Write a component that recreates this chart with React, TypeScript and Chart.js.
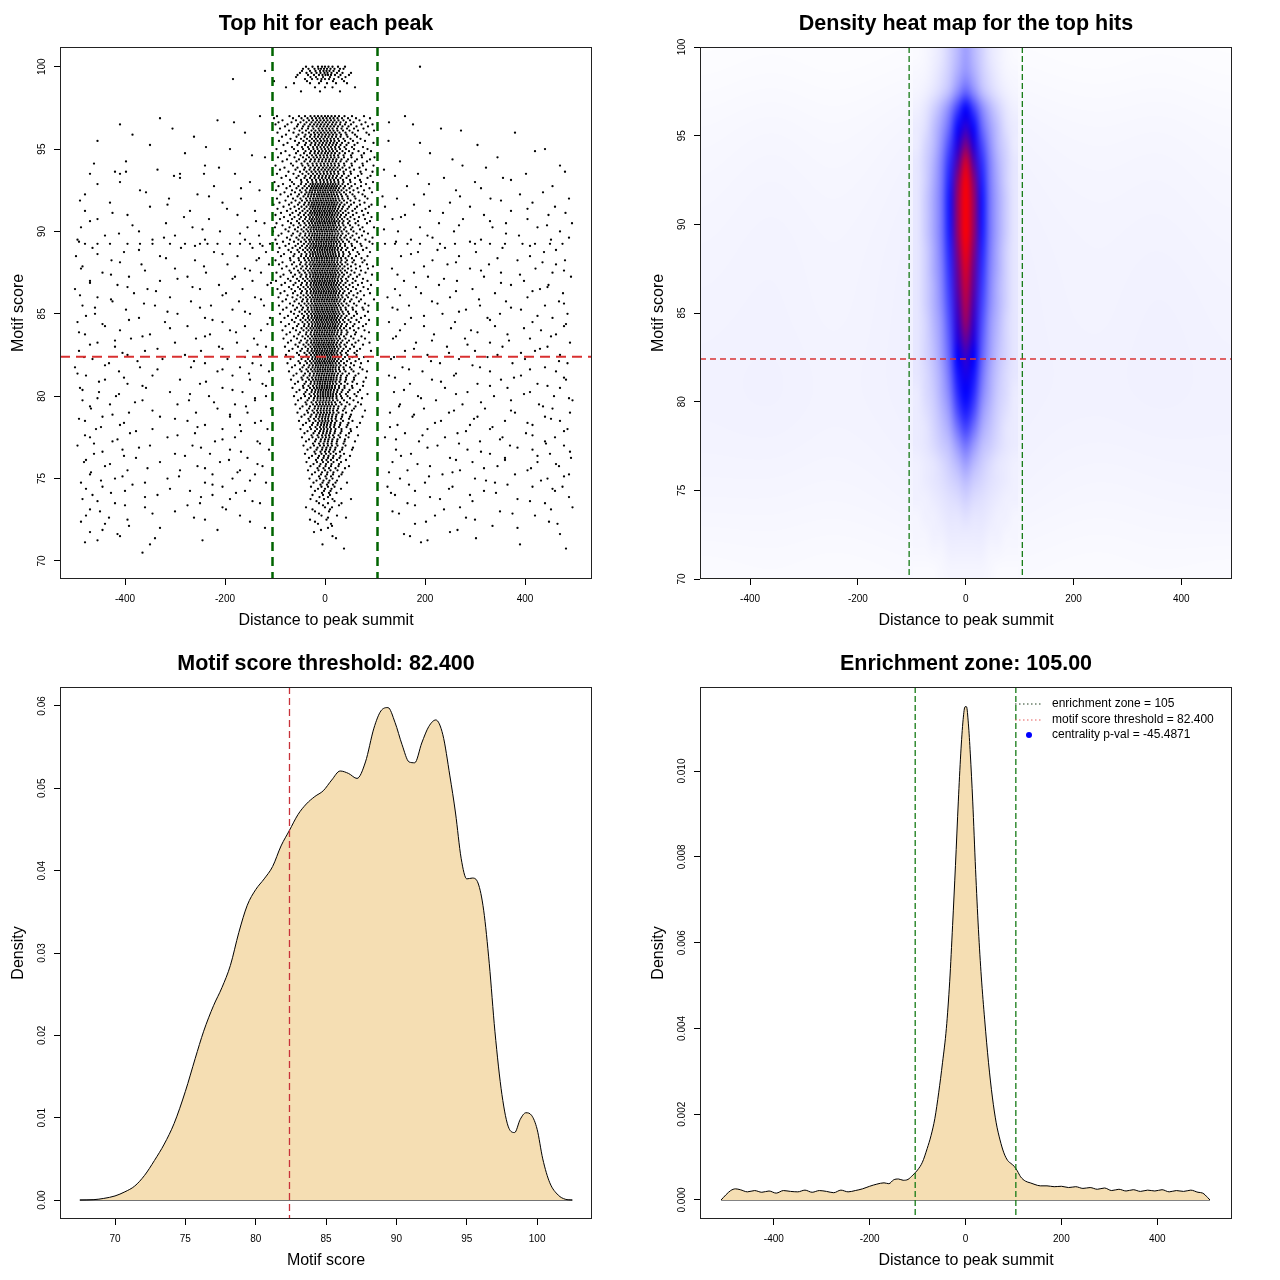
import React, { useEffect, useRef } from 'react';
import { Chart, registerables } from 'chart.js';
Chart.register(...registerables);

const FONT = '"Liberation Sans", Arial, Helvetica, sans-serif';

const ENRICHMENT_ZONE = 105;
const SCORE_THRESHOLD = 82.4;

// ---------- Panel 1: top hit per peak (score level -> distances to summit) ----------
const topHits: [number, number[]][] = [
  [100.0, [-38, -25, -14, -6, 0, 7, 15, 26, 40, 190]],
  [99.875, [-44, -33, -21, -13, -8, -2, 4, 11, 19, 30, 37]],
  [99.75, [-120, -46, -30, -19, -10, -3, 3, 9, 17, 28]],
  [99.625, [-50, -37, -27, -17, -9, -1, 5, 13, 24, 35, 52]],
  [99.5, [-55, -34, -22, -12, -5, 1, 6, 12, 20, 31, 48]],
  [99.375, [-58, -29, -18, -4, 10, 27, 41]],
  [99.25, [-184, -40, -26, -15, -7, 0, 8, 18, 34]],
  [99.125, [-102, -36, -8, 16, 38]],
  [99.0, [-62, -30, -12, 4, 22, 44]],
  [98.75, [-78, -20, 0, 15, 60]],
  [98.5, [-48, -10, 30]],
  [97.0, [-96, -71, -52, -40, -29, -21, -14, -7, 0, 6, 13, 20, 28, 39, 54, 78, -130, 160]],
  [96.875, [-102, -64, -47, -35, -26, -18, -11, -4, 3, 10, 17, 25, 34, 46, 62, 90, -330]],
  [96.75, [-85, -58, -43, -32, -24, -16, -9, -2, 5, 12, 19, 27, 37, 50, 69, -215]],
  [96.625, [-93, -67, -49, -37, -27, -19, -12, -5, 2, 9, 16, 23, 31, 42, 57, 81, -182, 128]],
  [96.5, [-99, -75, -54, -41, -30, -22, -15, -8, -1, 6, 14, 21, 30, 40, 52, 73, 95, -410, 176]],
  [96.375, [-80, -56, -44, -33, -25, -17, -10, -3, 4, 11, 18, 26, 35, 47, 63, 86]],
  [96.25, [-90, -61, -46, -34, -23, -13, -6, 1, 8, 15, 24, 33, 44, 58, 77, -305, 232]],
  [96.125, [-72, -51, -38, -27, -19, -11, -4, 3, 10, 17, 25, 36, 49, 66, 98, 272]],
  [96.0, [-95, -63, -45, -32, -22, -15, -8, -1, 6, 13, 20, 29, 41, 55, 83, -160, 380]],
  [95.875, [-78, -53, -39, -28, -20, -12, -5, 2, 9, 16, 23, 32, 43, 60, 88, -385]],
  [95.75, [-86, -57, -41, -30, -21, -14, -7, 0, 7, 14, 22, 31, 45, 64, -262]],
  [95.625, [-69, -48, -36, -26, -18, -10, -3, 4, 11, 18, 26, 37, 51, 71]],
  [95.5, [-92, -60, -43, -31, -22, -15, -8, -1, 5, 12, 19, 28, 40, 56, 80, -455, 127]],
  [95.375, [-75, -52, -38, -27, -19, -11, -4, 3, 10, 17, 24, 34, 47, 65, 97, 190]],
  [95.25, [-83, -55, -40, -29, -20, -13, -6, 1, 8, 15, 22, 31, 43, 59, -350, 305]],
  [95.125, [-66, -46, -34, -24, -16, -9, -2, 5, 12, 20, 28, 39, 54, 76, -238]],
  [95.0, [-97, -62, -44, -32, -23, -15, -7, 0, 7, 14, 21, 30, 42, 58, 85, -190, 440]],
  [94.875, [-79, -54, -39, -28, -20, -12, -5, 2, 9, 16, 24, 35, 48, 67, 92, 420]],
  [94.75, [-88, -58, -42, -30, -21, -14, -7, 0, 6, 13, 20, 29, 40, 55, 78, -280, 210]],
  [94.625, [-71, -49, -36, -26, -18, -10, -3, 4, 11, 18, 26, 37, 52, 73, -146]],
  [94.5, [-94, -61, -44, -32, -23, -16, -9, -2, 5, 12, 19, 27, 38, 53, 74, 99, -120, 345]],
  [94.375, [-76, -52, -38, -28, -20, -12, -5, 2, 9, 16, 23, 33, 46, 64, 90, 255]],
  [94.25, [-85, -57, -41, -30, -21, -13, -6, 1, 8, 15, 22, 31, 43, 60, 84, -398, 150]],
  [94.125, [-68, -47, -35, -25, -17, -9, -2, 5, 12, 19, 27, 38, 53, 75, -462]],
  [94.0, [-99, -64, -45, -33, -24, -16, -8, -1, 6, 13, 20, 28, 39, 54, 76, 97, -240, 275, 470]],
  [93.875, [-81, -55, -40, -29, -20, -12, -4, 3, 10, 17, 25, 35, 49, 69, -212, 322]],
  [93.75, [-90, -59, -42, -31, -22, -14, -7, 0, 7, 14, 21, 30, 42, 58, 82, -335, 118]],
  [93.625, [-73, -50, -37, -27, -19, -11, -3, 4, 11, 18, 26, 37, 51, 71, 95, -420, -398, 480]],
  [93.5, [-96, -63, -45, -33, -24, -16, -9, -2, 5, 12, 19, 27, 38, 52, 73, -470, -410, -290, -242, -180, 186, 402]],
  [93.375, [-78, -53, -39, -28, -20, -12, -5, 2, 9, 16, 24, 34, 47, 66, 91, -302, 140]],
  [93.25, [-87, -57, -41, -30, -21, -13, -6, 1, 8, 15, 22, 31, 43, 60, 85, -290, 238, 356]],
  [93.125, [-70, -48, -36, -26, -18, -10, -3, 4, 11, 18, 26, 36, 50, 70, 372]],
  [93.0, [-101, -66, -47, -34, -25, -17, -9, -2, 5, 12, 19, 27, 37, 51, 72, 96, -410, -150, 300]],
  [92.875, [-84, -62, -48, -38, -29, -24, -19, -14, -9, -4, 1, 6, 11, 16, 21, 27, 35, 46, 60, 82, -455, 208]],
  [92.75, [-93, -70, -53, -41, -32, -26, -21, -16, -11, -6, -1, 4, 9, 14, 19, 24, 31, 40, 53, 72, -222, 164, 455]],
  [92.625, [-77, -57, -45, -36, -28, -23, -18, -13, -8, -3, 2, 7, 12, 17, 22, 28, 37, 49, 65, 89, -168, 312]],
  [92.5, [-98, -66, -50, -39, -30, -25, -20, -15, -10, -5, 0, 5, 10, 15, 20, 26, 33, 43, 57, 78, -370, -131, 262]],
  [92.375, [-81, -60, -47, -37, -31, -26, -20, -14, -9, -4, 1, 6, 12, 17, 23, 29, 38, 50, 67, 94, -358, 436]],
  [92.25, [-89, -68, -52, -40, -33, -27, -22, -17, -12, -7, -2, 3, 8, 13, 18, 24, 32, 42, 55, 75, -480, -255, 198, 390]],
  [92.125, [-74, -55, -43, -34, -28, -22, -16, -11, -6, -1, 4, 9, 14, 20, 26, 34, 45, 59, 80, -232, 115, 270]],
  [92.0, [-96, -64, -49, -38, -30, -24, -19, -14, -9, -4, 1, 6, 11, 16, 21, 27, 35, 46, 61, 85, -312, -168, 144, 331, 488]],
  [91.875, [-79, -59, -46, -36, -29, -23, -18, -13, -8, -3, 2, 7, 12, 17, 22, 29, 38, 51, 69, -490, 352]],
  [91.75, [-91, -67, -51, -40, -32, -26, -21, -16, -11, -6, -1, 4, 9, 14, 19, 25, 33, 44, 58, 79, -430, -205, 250, 415]],
  [91.625, [-103, -72, -54, -42, -33, -27, -22, -17, -12, -7, -2, 3, 8, 13, 18, 23, 30, 39, 52, 70, 93, -315, 178]],
  [91.5, [-83, -61, -47, -37, -29, -24, -19, -14, -9, -4, 1, 6, 11, 16, 21, 28, 36, 48, 64, 88, -350, 120, 290, 460]],
  [91.375, [-95, -69, -52, -41, -31, -25, -20, -15, -10, -5, 0, 5, 10, 15, 20, 26, 34, 45, 60, 81, -196, 405]],
  [91.25, [-76, -58, -45, -35, -28, -22, -17, -12, -7, -2, 3, 8, 13, 18, 24, 31, 41, 55, 74, -480, -270, -140, 210, 372]],
  [91.125, [-88, -65, -50, -39, -30, -25, -20, -15, -10, -5, 0, 5, 10, 15, 21, 27, 36, 47, 63, 86, -425, 236, 481]],
  [91.0, [-99, -70, -53, -42, -33, -27, -21, -16, -11, -6, -1, 4, 9, 14, 19, 25, 32, 42, 56, 77, -395, -175, 160, 318, 447]],
  [90.875, [-82, -61, -48, -38, -30, -24, -18, -13, -8, -3, 2, 7, 12, 17, 23, 30, 39, 51, 68, 93, -282, 152]],
  [90.75, [-90, -66, -51, -40, -31, -26, -21, -16, -11, -6, -1, 4, 9, 14, 19, 26, 34, 45, 59, 80, -455, -232, 135, 276, 405]],
  [90.625, [-74, -56, -44, -35, -28, -23, -17, -12, -7, -2, 3, 8, 13, 18, 23, 29, 37, 49, 66, 90, -470, -138, 330]],
  [90.5, [-97, -68, -52, -41, -32, -26, -20, -15, -10, -5, 0, 5, 10, 15, 20, 27, 35, 46, 61, 84, -318, -121, 228, 362, 494]],
  [90.375, [-85, -63, -49, -38, -30, -24, -19, -14, -9, -4, 1, 6, 11, 16, 21, 28, 37, 50, 67, -385, 268, 444]],
  [90.25, [-100, -71, -54, -42, -33, -27, -22, -17, -12, -7, -2, 3, 8, 13, 18, 24, 31, 41, 55, 75, 98, -488, -265, -155, 190, 335, 425]],
  [90.125, [-79, -60, -47, -37, -29, -23, -18, -13, -8, -3, 2, 7, 12, 17, 22, 29, 38, 52, 70, -245, 118]],
  [90.0, [-104, -73, -55, -43, -34, -28, -22, -16, -11, -6, -1, 4, 9, 14, 19, 25, 33, 43, 57, 78, -372, -210, 146, 258, 470]],
  [89.875, [-87, -64, -49, -39, -31, -25, -20, -15, -10, -5, 0, 5, 10, 15, 21, 27, 35, 47, 63, 86, -412, -170, 362]],
  [89.75, [-93, -67, -51, -40, -32, -26, -21, -16, -11, -6, -1, 4, 9, 14, 19, 25, 32, 42, 55, 74, -440, -300, -132, 205, 388]],
  [89.625, [-76, -57, -45, -36, -28, -22, -17, -12, -7, -2, 3, 8, 13, 18, 23, 30, 39, 51, 68, 95, -322, 215, 488]],
  [89.5, [-99, -70, -53, -41, -32, -27, -21, -16, -11, -6, -1, 4, 9, 14, 19, 25, 33, 44, 59, 81, -495, -345, -240, -160, 172, 312, 452]],
  [89.375, [-84, -62, -48, -38, -30, -24, -18, -13, -8, -3, 2, 7, 12, 17, 22, 28, 36, 48, 64, 89, -492, 142, 290]],
  [89.25, [-96, -72, -54, -42, -33, -27, -22, -17, -12, -7, -2, 3, 8, 13, 18, 24, 31, 40, 53, 71, 95, -480, -455, -430, -395, -370, -345, -310, -280, -250, -235, -215, -190, -170, -150, -130, -110, 120, 140, 165, 190, 230, 260, 300, 330, 360, 395, 420, 450, 475]],
  [89.125, [-79, -59, -46, -36, -29, -23, -18, -13, -8, -3, 2, 7, 12, 17, 23, 30, 40, 54, 73, -260, -125, 410]],
  [89.0, [-91, -65, -50, -39, -31, -25, -20, -15, -10, -5, 0, 5, 10, 15, 20, 26, 34, 45, 60, 83, -465, -288, -145, 240, 355]],
  [88.875, [-73, -55, -44, -35, -28, -22, -16, -11, -6, -1, 4, 9, 14, 19, 25, 32, 42, 56, 76, -372, 225, 462]],
  [88.75, [-94, -68, -52, -40, -31, -25, -20, -15, -10, -5, 0, 5, 10, 15, 20, 27, 36, 48, 65, 90, -402, -222, -118, 186, 302, 438]],
  [88.625, [-82, -61, -47, -37, -29, -24, -19, -14, -9, -4, 1, 6, 11, 16, 21, 28, 37, 50, 68, -455, -205, 172]],
  [88.5, [-88, -63, -48, -38, -30, -24, -18, -13, -8, -3, 2, 7, 12, 17, 22, 28, 36, 47, 62, 85, -498, -330, -175, 152, 268, 410]],
  [88.375, [-70, -53, -42, -34, -27, -21, -16, -11, -6, -1, 4, 9, 14, 19, 25, 32, 41, 54, 73, -318, -132, 345]],
  [88.25, [-99, -69, -52, -40, -32, -26, -21, -16, -11, -6, -1, 4, 9, 14, 19, 25, 33, 44, 58, 79, -427, -260, -137, 215, 385, 480]],
  [88.125, [-85, -62, -48, -37, -29, -23, -17, -12, -7, -2, 3, 8, 13, 18, 24, 31, 41, 55, 75, -410, 262, 435]],
  [88.0, [-92, -66, -50, -39, -31, -25, -20, -15, -10, -5, 0, 5, 10, 15, 20, 26, 34, 45, 61, 84, -367, -195, -112, 245, 328, 462]],
  [87.875, [-77, -57, -45, -36, -28, -22, -17, -12, -7, -2, 3, 8, 13, 18, 23, 30, 39, 52, 70, 96, -485, -242, 198]],
  [87.75, [-86, -62, -48, -38, -30, -24, -19, -14, -9, -4, 1, 6, 11, 16, 21, 27, 35, 46, 62, 86, -488, -300, -160, 134, 290, 421]],
  [87.625, [-71, -54, -43, -34, -27, -21, -16, -11, -6, -1, 4, 9, 14, 19, 24, 31, 40, 53, 72, -360, -150, 312, 478]],
  [87.5, [-97, -68, -51, -40, -31, -25, -20, -15, -10, -5, 0, 5, 10, 15, 20, 26, 34, 44, 59, 81, -445, -238, -128, 178, 352, 455]],
  [87.375, [-83, -60, -47, -37, -29, -23, -18, -13, -8, -3, 2, 7, 12, 17, 22, 29, 38, 51, 69, 94, -428, 145, 390]],
  [87.25, [-89, -64, -49, -38, -30, -24, -19, -14, -9, -4, 1, 6, 11, 16, 21, 27, 35, 47, 64, -392, -275, -180, 206, 318, 492]],
  [87.125, [-74, -56, -44, -35, -27, -21, -16, -11, -6, -1, 4, 9, 14, 19, 25, 32, 42, 56, 76, -295, -185, 238]],
  [87.0, [-98, -69, -52, -40, -31, -25, -20, -15, -10, -5, 0, 5, 10, 15, 20, 26, 34, 45, 61, 85, -470, -330, -145, 158, 264, 398]],
  [86.875, [-80, -59, -46, -36, -28, -22, -17, -12, -7, -2, 3, 8, 13, 18, 24, 31, 41, 55, 74, -470, -108, 352]],
  [86.75, [-87, -63, -48, -37, -29, -23, -18, -13, -8, -3, 2, 7, 12, 17, 22, 28, 37, 49, 66, 92, -415, -212, -115, 228, 372, 447]],
  [86.625, [-72, -54, -43, -34, -27, -21, -16, -11, -6, -1, 4, 9, 14, 19, 25, 32, 42, 56, 77, -395, -265, 182, 445]],
  [86.5, [-95, -67, -50, -39, -30, -24, -19, -14, -9, -4, 1, 6, 11, 16, 21, 27, 35, 46, 62, 86, -500, -355, -250, -165, 140, 295, 430]],
  [86.375, [-81, -60, -46, -36, -28, -22, -17, -12, -7, -2, 3, 8, 13, 18, 23, 30, 39, 52, 71, -338, 262, 415]],
  [86.25, [-89, -64, -48, -37, -29, -23, -18, -13, -8, -3, 2, 7, 12, 17, 22, 28, 36, 48, 65, 90, -382, -198, 192, 340, 476]],
  [86.125, [-75, -55, -43, -34, -26, -20, -15, -10, -5, 0, 5, 10, 15, 20, 26, 33, 43, 57, 78, -490, -205, 150]],
  [86.0, [-93, -65, -49, -38, -30, -24, -19, -14, -9, -4, 1, 6, 11, 16, 21, 27, 35, 46, 63, -455, -310, -140, 125, 250, 405]],
  [85.875, [-78, -57, -44, -35, -27, -21, -16, -11, -6, -1, 4, 9, 14, 19, 24, 31, 40, 53, 72, 98, -428, -128, 308]],
  [85.75, [-85, -61, -46, -36, -28, -22, -17, -12, -7, -2, 3, 8, 13, 18, 23, 29, 38, 50, 68, -425, -268, -172, 214, 362, 468]],
  [85.625, [-70, -52, -41, -33, -26, -20, -15, -10, -5, 0, 5, 10, 15, 20, 26, 33, 43, 58, 80, -362, 225, 478]],
  [85.5, [-92, -64, -48, -37, -29, -23, -18, -13, -8, -3, 2, 7, 12, 17, 22, 28, 36, 47, 63, 87, -485, -340, -228, -122, 168, 310, 440]],
  [85.375, [-77, -56, -44, -34, -27, -21, -16, -11, -6, -1, 4, 9, 14, 19, 24, 31, 41, 55, 75, -460, -250, 135, 372]],
  [85.25, [-84, -60, -46, -35, -27, -21, -16, -11, -6, -1, 4, 9, 14, 19, 25, 32, 42, 56, 77, -398, -185, 145, 282, 392]],
  [85.125, [-68, -51, -40, -32, -25, -19, -14, -9, -4, 1, 6, 11, 16, 21, 27, 35, 46, 62, 86, -315, -160, 268]],
  [85.0, [-90, -62, -46, -36, -28, -22, -17, -12, -7, -2, 3, 8, 13, 18, 23, 29, 37, 48, 64, -460, -295, -150, 235, 350, 485]],
  [84.875, [-74, -54, -42, -33, -26, -20, -15, -10, -5, 0, 5, 10, 15, 20, 26, 33, 43, 58, 80, -478, 198, 425]],
  [84.75, [-81, -58, -44, -34, -27, -21, -16, -11, -6, -1, 4, 9, 14, 19, 24, 31, 40, 53, 72, -372, -240, -110, 172, 325, 455]],
  [84.625, [-66, -49, -39, -31, -24, -18, -13, -8, -3, 2, 7, 12, 17, 22, 28, 36, 47, 63, 88, -392, -225, 330]],
  [84.5, [-88, -61, -45, -35, -27, -21, -16, -11, -6, -1, 4, 9, 14, 19, 24, 30, 39, 51, 68, -495, -320, -205, 128, 260, 415]],
  [84.375, [-72, -53, -41, -32, -25, -19, -14, -9, -4, 1, 6, 11, 16, 21, 27, 34, 44, 59, 82, -445, -115, 160, 482]],
  [84.25, [-79, -56, -42, -33, -26, -20, -15, -10, -5, 0, 5, 10, 15, 20, 25, 32, 42, 56, 76, -440, -275, -160, 198, 340, 478]],
  [84.125, [-64, -47, -37, -29, -23, -17, -12, -7, -2, 3, 8, 13, 18, 23, 30, 38, 50, 67, -310, 252, 398]],
  [84.0, [-85, -58, -43, -33, -26, -20, -15, -10, -5, 0, 5, 10, 15, 20, 26, 33, 43, 58, 79, -410, -190, -128, 150, 292, 432]],
  [83.875, [-70, -50, -37, -28, -21, -16, -11, -6, -1, 4, 9, 14, 19, 25, 33, 45, 62, 88, -492, -178, 305]],
  [83.75, [-77, -53, -38, -29, -22, -17, -12, -7, -2, 3, 8, 13, 18, 24, 32, 43, 60, -480, -350, -230, 218, 365, 462]],
  [83.625, [-62, -45, -34, -26, -20, -15, -10, -5, 0, 5, 10, 15, 21, 28, 38, 52, 73, -365, -240, 142, 452]],
  [83.5, [-83, -56, -40, -30, -23, -18, -13, -8, -3, 2, 7, 12, 17, 23, 30, 41, 57, 80, -388, -258, -142, 136, 280, 410]],
  [83.375, [-68, -48, -35, -27, -21, -16, -11, -6, -1, 4, 9, 14, 19, 26, 35, 48, 67, -420, 214, 368]],
  [83.25, [-74, -51, -37, -28, -22, -17, -12, -7, -2, 3, 8, 13, 18, 24, 32, 44, 61, 89, -455, -300, -176, 182, 330, 490]],
  [83.125, [-59, -43, -33, -25, -19, -14, -9, -4, 1, 6, 11, 16, 22, 29, 39, 54, 76, -470, -135, 285]],
  [83.0, [-80, -54, -39, -29, -22, -17, -12, -7, -2, 3, 8, 13, 18, 24, 31, 42, 58, -420, -212, -118, 244, 355, 445]],
  [82.875, [-65, -46, -34, -26, -20, -15, -10, -5, 0, 5, 10, 15, 20, 27, 37, 50, 70, -335, -205, 178, 430]],
  [82.75, [-72, -49, -35, -27, -21, -16, -11, -6, -1, 4, 9, 14, 19, 25, 34, 46, 64, 92, -492, -360, -248, -155, 160, 300, 420]],
  [82.625, [-56, -41, -31, -24, -18, -13, -8, -3, 2, 7, 12, 17, 23, 31, 42, 59, -405, 248, 392]],
  [82.5, [-78, -52, -37, -28, -21, -16, -11, -6, -1, 4, 9, 14, 19, 25, 33, 45, 63, -395, -280, -130, 205, 345, 470]],
  [82.375, [-63, -44, -33, -25, -19, -14, -9, -4, 1, 6, 11, 16, 22, 29, 40, 55, 78, -482, -160, 138, 325]],
  [82.25, [-69, -47, -34, -26, -20, -15, -10, -5, 0, 5, 10, 15, 20, 27, 36, 49, 68, -465, -325, -195, 132, 268, 400]],
  [82.125, [-53, -39, -30, -23, -17, -12, -7, -2, 3, 8, 13, 18, 24, 32, 44, 61, 86, -375, -262, 212, 468]],
  [82.0, [-75, -50, -36, -27, -20, -15, -10, -5, 0, 5, 10, 15, 21, 28, 38, 52, 72, -432, -240, -145, 230, 375, 485]],
  [81.875, [-60, -42, -31, -24, -18, -13, -8, -3, 2, 7, 12, 17, 23, 31, 42, 58, -440, -128, 295]],
  [81.75, [-66, -45, -33, -25, -19, -14, -9, -4, 1, 6, 11, 16, 21, 28, 37, 50, 70, -500, -370, -268, -170, 155, 310, 440]],
  [81.625, [-50, -37, -28, -21, -15, -10, -5, 0, 5, 10, 15, 21, 28, 38, 53, 75, -335, -205, 168, 410]],
  [81.5, [-72, -47, -34, -25, -19, -14, -9, -4, 1, 6, 11, 16, 22, 30, 41, 57, 84, -412, -215, -112, 195, 330, 462]],
  [81.375, [-57, -40, -30, -22, -16, -11, -6, -1, 4, 9, 14, 19, 26, 35, 48, 67, -495, -152, 262]],
  [81.25, [-63, -43, -31, -23, -17, -12, -7, -2, 3, 8, 13, 18, 24, 32, 44, 61, -478, -345, -185, 128, 258, 392]],
  [81.125, [-47, -35, -26, -19, -13, -8, -3, 2, 7, 12, 17, 23, 31, 42, 58, 82, -402, 140, 378, 478]],
  [81.0, [-68, -45, -32, -24, -18, -13, -8, -3, 2, 7, 12, 17, 23, 31, 42, 58, -440, -290, -150, 214, 352, 482]],
  [80.875, [-54, -38, -28, -21, -15, -10, -5, 0, 5, 10, 15, 21, 29, 40, 55, 77, -452, -238, 232]],
  [80.75, [-60, -41, -29, -21, -15, -10, -5, 0, 5, 10, 16, 23, 32, 45, 64, -395, -250, -125, 170, 305, 425]],
  [80.625, [-44, -33, -24, -17, -11, -6, -1, 4, 9, 14, 20, 28, 39, 54, 76, -365, -118, 330, 445]],
  [80.5, [-65, -43, -30, -22, -16, -11, -6, -1, 4, 9, 14, 20, 28, 39, 55, -490, -358, -205, 240, 365, 470]],
  [80.375, [-51, -36, -26, -19, -13, -8, -3, 2, 7, 12, 18, 25, 35, 49, 70, -485, -185, 158]],
  [80.25, [-57, -39, -27, -20, -14, -9, -4, 1, 6, 11, 17, 24, 33, 46, 66, -452, -310, -165, 138, 285, 410]],
  [80.125, [-42, -31, -22, -15, -9, -4, 1, 6, 11, 16, 22, 30, 42, 59, 85, -412, -270, 262, 398]],
  [80.0, [-62, -40, -28, -20, -14, -9, -4, 1, 6, 11, 16, 23, 32, 45, 63, -418, -232, -118, 186, 338, 458]],
  [79.875, [-48, -32, -22, -15, -9, -3, 3, 9, 15, 23, 34, 50, 74, -455, -140, 192, 488]],
  [79.75, [-54, -35, -23, -15, -9, -3, 3, 9, 16, 25, 38, 57, -485, -365, -272, -140, 222, 372, 495]],
  [79.625, [-39, -27, -18, -11, -5, 1, 7, 13, 20, 30, 44, 66, -380, -222, 312]],
  [79.5, [-59, -37, -24, -16, -10, -4, 2, 8, 14, 22, 33, 49, 72, -430, -295, -180, 150, 275, 428]],
  [79.375, [-45, -30, -20, -13, -7, -1, 5, 11, 18, 27, 41, 61, -470, -158, 148, 436]],
  [79.25, [-50, -32, -21, -14, -8, -2, 4, 10, 17, 26, 39, 58, -468, -215, -108, 198, 320, 455]],
  [79.125, [-36, -25, -16, -9, -3, 3, 9, 16, 24, 36, 54, 80, -345, 258, 372]],
  [79.0, [-55, -34, -22, -14, -8, -2, 4, 10, 17, 27, 42, -392, -258, -155, 130, 248, 380, 490]],
  [78.875, [-41, -27, -17, -10, -4, 2, 8, 15, 23, 35, 52, -425, -190, 178]],
  [78.75, [-47, -29, -18, -11, -5, 1, 7, 14, 22, 34, 50, 75, -445, -330, -190, 175, 305, 440]],
  [78.625, [-33, -22, -13, -6, 0, 6, 13, 21, 32, 48, -492, -300, 298, 452]],
  [78.5, [-52, -31, -19, -11, -5, 1, 7, 14, 23, 36, 55, -480, -275, -128, 232, 360, 470]],
  [78.375, [-38, -24, -14, -7, -1, 5, 12, 20, 31, 47, 70, -402, -140, 220, 405]],
  [78.25, [-44, -26, -15, -8, -2, 4, 11, 19, 30, 45, -410, -240, -170, 145, 290, 415]],
  [78.125, [-30, -19, -10, -3, 3, 10, 18, 28, 43, 64, -448, -255, 130, 335]],
  [78.0, [-49, -28, -16, -8, -2, 5, 12, 21, 33, 51, -458, -345, -205, -115, 205, 330, 485]],
  [77.875, [-35, -20, -10, -3, 4, 11, 20, 33, 52, -378, -168, 282, 478]],
  [77.75, [-41, -23, -12, -4, 3, 10, 19, 31, 48, -390, -260, 160, 265, 402]],
  [77.625, [-27, -15, -6, 1, 8, 16, 27, 42, 66, -480, -295, 195, 415]],
  [77.5, [-46, -25, -13, -5, 2, 9, 18, 30, 47, -470, -315, -180, 120, 240, 355, 460]],
  [77.375, [-32, -18, -8, 0, 7, 15, 25, 40, -415, -205, 142, 350]],
  [77.25, [-38, -20, -9, -1, 6, 14, 24, 39, 60, -425, -220, -135, 188, 310, 440]],
  [77.125, [-24, -12, -3, 5, 13, 23, 37, -462, -130, 268, 442]],
  [77.0, [-43, -22, -10, -2, 6, 14, 25, 41, -495, -350, -265, 225, 370, 478]],
  [76.875, [-29, -15, -5, 3, 11, 21, 35, 56, -372, -248, 205, 385]],
  [76.75, [-35, -17, -6, 2, 10, 20, 34, 54, -405, -190, -112, 142, 285, 415]],
  [76.625, [-21, -9, 0, 8, 17, 30, -445, -168, 312, 490]],
  [76.5, [-40, -19, -7, 2, 11, 22, 38, -462, -300, -230, 172, 330, 450]],
  [76.375, [-26, -12, -2, 7, 17, 31, 50, -402, -280, 152, 425]],
  [76.25, [-32, -14, -3, 6, 16, 29, -378, -155, 250, 360, 492]],
  [76.125, [-18, -6, 3, 12, 24, 42, -478, -192, 262, 360]],
  [76.0, [-37, -16, -4, 6, 17, 32, -482, -330, -210, 135, 295, 425]],
  [75.875, [-23, -9, 2, 13, 28, -430, -135, 185, 462]],
  [75.75, [-29, -11, 1, 12, 27, 48, -440, -255, -125, 210, 345, 468]],
  [75.625, [-15, -3, 8, 21, 40, -355, -240, 318, 412]],
  [75.5, [-34, -13, 0, 11, 25, -395, -290, -170, 165, 270, 405]],
  [75.375, [-20, -6, 5, 17, 35, -468, -175, 128, 255]],
  [75.25, [-26, -8, 4, 16, 33, -470, -225, -140, 235, 380, 488]],
  [75.125, [-12, 1, 12, 28, -405, -292, 208, 478]],
  [75.0, [-31, -10, 3, 15, -420, -315, -185, 150, 300, 445]],
  [74.875, [-17, -3, 9, 24, -448, -150, 322, 432]],
  [74.75, [-23, -5, 7, 21, 44, -488, -360, -240, -118, 200, 340]],
  [74.625, [-9, 4, 16, -385, -225, 168, 365]],
  [74.5, [-28, -7, 6, 19, -445, -205, 125, 255, 415, 475]],
  [74.375, [-14, 0, 13, 32, -478, -310, 248, 455]],
  [74.25, [-20, -2, 11, -400, -270, -160, 180, 318, 460]],
  [74.125, [-6, 8, 23, -428, -178, 132, 342]],
  [74.0, [-25, -4, 10, -465, -335, -225, 140, 290]],
  [73.875, [-11, 6, -360, -248, 210, 488]],
  [73.75, [-29, -2, 15, 52, -485, -190, 230, 385]],
  [73.625, [-17, 19, -455, -145, 295, 410]],
  [73.5, [-12, 6, 33, -420, -250, -130, 165, 440]],
  [73.375, [-4, 28, -400, -275, 180]],
  [73.25, [-38, 0, 14, -360, -205, 270, 495]],
  [73.125, [-25, 10, -470, -198, 238, 452]],
  [73.0, [-20, 8, -450, -300, 135, 350]],
  [72.875, [-12, -345, 148, 375]],
  [72.75, [-7, 24, -478, -170, 220, 420]],
  [72.625, [6, 42, -432, -262, 282]],
  [72.5, [-30, 3, -395, -240, 300]],
  [72.375, [-20, -488, -150, 202, 448]],
  [72.25, [-14, 12, -440, 180, 465]],
  [72.125, [14, -392, 335]],
  [72.0, [6, -330, -120, 385]],
  [71.875, [-8, -445, -215, 265]],
  [71.75, [-22, -470, 250]],
  [71.625, [-415, 158, 470]],
  [71.5, [15, -410, 170]],
  [71.375, [22, -340, 302]],
  [71.25, [-455, -245, 205]],
  [71.125, [-480, 192]],
  [71.0, [-5, -350, 390]],
  [70.75, [38, 482]],
  [70.5, [-365]],
];

// ---------- Panel 2: density heat map ----------
const heatX = [-90, -75, -60, -45, -30, -15, 0, 15, 30, 45, 60, 75, 90];
const heatY = [99.5, 98.5, 97.5, 96.5, 95.5, 94.5, 93.5, 92.5, 91.5, 90.5, 89.5, 88.5, 87.5, 86.5, 85.5,
  84.5, 83.5, 82.5, 81.5, 80.5, 79.5, 78.5, 77.5, 76.5, 75.5, 74.5, 73.5, 72.5, 71.5, 70.5];
const heatZ = [
  [0.01, 0.015, 0.03, 0.05, 0.09, 0.14, 0.19, 0.14, 0.09, 0.05, 0.03, 0.015, 0.01],
  [0.015, 0.02, 0.035, 0.06, 0.1, 0.16, 0.21, 0.16, 0.1, 0.06, 0.035, 0.02, 0.015],
  [0.02, 0.03, 0.05, 0.08, 0.13, 0.22, 0.3, 0.22, 0.13, 0.08, 0.05, 0.03, 0.02],
  [0.03, 0.05, 0.09, 0.15, 0.24, 0.38, 0.5, 0.38, 0.24, 0.15, 0.09, 0.05, 0.03],
  [0.04, 0.06, 0.12, 0.19, 0.3, 0.48, 0.58, 0.48, 0.3, 0.19, 0.12, 0.06, 0.04],
  [0.04, 0.08, 0.13, 0.22, 0.36, 0.56, 0.74, 0.56, 0.36, 0.22, 0.13, 0.08, 0.04],
  [0.05, 0.09, 0.15, 0.25, 0.41, 0.66, 0.92, 0.66, 0.41, 0.25, 0.15, 0.09, 0.05],
  [0.05, 0.09, 0.16, 0.26, 0.44, 0.76, 0.99, 0.76, 0.44, 0.26, 0.16, 0.09, 0.05],
  [0.05, 0.1, 0.17, 0.27, 0.46, 0.8, 1.0, 0.8, 0.46, 0.27, 0.17, 0.1, 0.05],
  [0.05, 0.1, 0.17, 0.27, 0.46, 0.8, 1.0, 0.8, 0.46, 0.27, 0.17, 0.1, 0.05],
  [0.05, 0.1, 0.17, 0.27, 0.45, 0.79, 1.0, 0.79, 0.45, 0.27, 0.17, 0.1, 0.05],
  [0.05, 0.09, 0.16, 0.26, 0.43, 0.75, 0.97, 0.75, 0.43, 0.26, 0.16, 0.09, 0.05],
  [0.05, 0.09, 0.16, 0.25, 0.41, 0.71, 0.93, 0.71, 0.41, 0.25, 0.16, 0.09, 0.05],
  [0.05, 0.09, 0.15, 0.24, 0.39, 0.68, 0.89, 0.68, 0.39, 0.24, 0.15, 0.09, 0.05],
  [0.05, 0.09, 0.15, 0.23, 0.37, 0.64, 0.85, 0.64, 0.37, 0.23, 0.15, 0.09, 0.05],
  [0.05, 0.08, 0.14, 0.21, 0.35, 0.6, 0.8, 0.6, 0.35, 0.21, 0.14, 0.08, 0.05],
  [0.05, 0.08, 0.13, 0.2, 0.33, 0.56, 0.7, 0.56, 0.33, 0.2, 0.13, 0.08, 0.05],
  [0.05, 0.08, 0.12, 0.19, 0.31, 0.5, 0.6, 0.5, 0.31, 0.19, 0.12, 0.08, 0.05],
  [0.05, 0.07, 0.11, 0.17, 0.28, 0.46, 0.54, 0.46, 0.28, 0.17, 0.11, 0.07, 0.05],
  [0.04, 0.07, 0.1, 0.16, 0.25, 0.42, 0.5, 0.42, 0.25, 0.16, 0.1, 0.07, 0.04],
  [0.04, 0.06, 0.09, 0.14, 0.21, 0.36, 0.45, 0.36, 0.21, 0.14, 0.09, 0.06, 0.04],
  [0.04, 0.05, 0.08, 0.12, 0.17, 0.28, 0.37, 0.28, 0.17, 0.12, 0.08, 0.05, 0.04],
  [0.04, 0.05, 0.07, 0.1, 0.13, 0.2, 0.27, 0.2, 0.13, 0.1, 0.07, 0.05, 0.04],
  [0.03, 0.04, 0.05, 0.07, 0.1, 0.14, 0.19, 0.14, 0.1, 0.07, 0.05, 0.04, 0.03],
  [0.03, 0.04, 0.05, 0.06, 0.08, 0.1, 0.13, 0.1, 0.08, 0.06, 0.05, 0.04, 0.03],
  [0.03, 0.03, 0.04, 0.05, 0.06, 0.07, 0.09, 0.07, 0.06, 0.05, 0.04, 0.03, 0.03],
  [0.02, 0.03, 0.03, 0.04, 0.05, 0.05, 0.06, 0.05, 0.05, 0.04, 0.03, 0.03, 0.02],
  [0.02, 0.02, 0.03, 0.03, 0.04, 0.04, 0.04, 0.04, 0.04, 0.03, 0.03, 0.02, 0.02],
  [0.015, 0.015, 0.02, 0.02, 0.03, 0.03, 0.03, 0.03, 0.03, 0.02, 0.02, 0.015, 0.015],
  [0.01, 0.01, 0.01, 0.015, 0.02, 0.02, 0.02, 0.02, 0.02, 0.015, 0.01, 0.01, 0.01],
];
const bgX = [-480, -360, -240, -120, 0, 120, 240, 360, 480];
const bgY = [100, 95, 90, 85, 80, 75, 70];
const bgZ = [
  [0.004, 0.005, 0.004, 0.006, 0.008, 0.006, 0.004, 0.005, 0.004],
  [0.014, 0.018, 0.014, 0.02, 0.03, 0.02, 0.016, 0.018, 0.014],
  [0.02, 0.024, 0.02, 0.026, 0.035, 0.026, 0.022, 0.024, 0.02],
  [0.024, 0.026, 0.022, 0.028, 0.036, 0.028, 0.024, 0.027, 0.024],
  [0.026, 0.027, 0.024, 0.028, 0.036, 0.028, 0.025, 0.027, 0.026],
  [0.02, 0.02, 0.018, 0.022, 0.03, 0.022, 0.018, 0.02, 0.021],
  [0.008, 0.009, 0.008, 0.009, 0.012, 0.009, 0.008, 0.009, 0.008],
];

// ---------- Panel 3: motif score density ----------
const scoreX = [67.5, 68.5, 69.2, 70, 70.7, 71.4, 72.1, 72.8, 73.5, 74.2, 75, 75.7, 76.3, 77, 77.6, 78.2, 78.8,
  79.4, 80, 80.6, 81.2, 81.8, 82.4, 83, 83.6, 84.2, 84.8, 85.4, 86, 86.6, 87.2, 87.8, 88.4, 88.9, 89.4, 89.9,
  90.4, 90.9, 91.3, 91.8, 92.3, 92.8, 93.3, 93.8, 94.2, 94.6, 95, 95.4, 95.8, 96.2, 96.6, 97, 97.5, 98, 98.4,
  98.8, 99.2, 99.6, 100, 100.4, 100.9, 101.5, 102, 102.5];
const scoreDensity = [0, 0.00005, 0.0002, 0.0005, 0.001, 0.0017, 0.003, 0.0048, 0.0068, 0.0093, 0.0132, 0.0172,
  0.0205, 0.0236, 0.0258, 0.0285, 0.0325, 0.0358, 0.0377, 0.039, 0.0405, 0.043, 0.0449, 0.0468, 0.0481, 0.049,
  0.0497, 0.051, 0.0521, 0.0518, 0.0512, 0.0532, 0.0573, 0.0594, 0.0598, 0.058, 0.0553, 0.0532, 0.0531, 0.0555,
  0.0575, 0.0583, 0.0565, 0.0515, 0.047, 0.0415, 0.039, 0.0391, 0.0385, 0.0352, 0.0287, 0.0205, 0.0128, 0.0087,
  0.0082, 0.0098, 0.0106, 0.0103, 0.0086, 0.005, 0.0021, 0.0006, 0.0001, 0];

// ---------- Panel 4: distance density ----------
const distX = [-510, -500, -490, -480, -470, -455, -440, -425, -410, -395, -380, -365, -350, -335, -320, -305,
  -290, -275, -260, -245, -230, -215, -200, -185, -170, -160, -150, -140, -130, -120, -110, -100, -90, -80, -72,
  -64, -56, -48, -40, -33, -27, -21, -15, -10, -5, -1, 2, 6, 10, 15, 21, 27, 33, 40, 48, 56, 64, 72, 80, 88, 95,
  102, 108, 115, 125, 135, 145, 156, 170, 185, 200, 215, 230, 245, 260, 275, 290, 305, 320, 335, 350, 365, 380,
  395, 410, 425, 440, 455, 470, 485, 495, 505, 510];
const distDensity = [0, 0.00012, 0.00022, 0.00026, 0.00024, 0.00019, 0.00022, 0.00018, 0.00021, 0.00016, 0.00022,
  0.0002, 0.00019, 0.00023, 0.00018, 0.00022, 0.0002, 0.00017, 0.00023, 0.00019, 0.00022, 0.00026, 0.00032,
  0.00037, 0.0004, 0.00038, 0.00047, 0.00049, 0.00046, 0.00048, 0.00058, 0.0007, 0.00088, 0.0012, 0.0015, 0.0019,
  0.0025, 0.0032, 0.004, 0.0051, 0.0064, 0.0078, 0.0093, 0.0104, 0.0112, 0.0115, 0.0115, 0.0111, 0.0104, 0.0093,
  0.0077, 0.0063, 0.0052, 0.0042, 0.0032, 0.0024, 0.0018, 0.0014, 0.0011, 0.00092, 0.00085, 0.00078, 0.00068,
  0.00054, 0.00044, 0.0004, 0.00036, 0.00033, 0.00033, 0.00031, 0.00032, 0.00029, 0.00031, 0.00027, 0.00029,
  0.00025, 0.00028, 0.00022, 0.00025, 0.00021, 0.00024, 0.0002, 0.00023, 0.00021, 0.00024, 0.00019, 0.00022,
  0.0002, 0.00023, 0.00018, 0.00016, 0.00006, 0];

// ---------- Axis ticks ----------
const distTicks = [-400, -200, 0, 200, 400];
const scoreTicks = [70, 75, 80, 85, 90, 95, 100];
const scoreDensTicks = [0, 0.01, 0.02, 0.03, 0.04, 0.05, 0.06];
const distDensTicks = [0, 0.002, 0.004, 0.006, 0.008, 0.01];

// ---------- Legend (panel 4) ----------
const legendLabels = ['enrichment zone = 105', 'motif score threshold = 82.400', 'centrality p-val = -45.4871'];

type RefLine = { v: number; color: string; width: number; dash: number[] };
type Decor = {
  title: string;
  yTicks: number[];
  yFmt: (v: number) => string;
  vlines?: RefLine[];
  hlines?: RefLine[];
  heat?: boolean;
  legend?: boolean;
};

function ramp(v: number): [number, number, number] {
  const z = Math.max(0, Math.min(1, v));
  if (z <= 0.5) {
    const c = Math.round(255 * (1 - z / 0.5));
    return [c, c, 255];
  }
  const t = (z - 0.5) / 0.5;
  return [Math.round(255 * t), 0, Math.round(255 * (1 - t))];
}

function drawGrid(chart: any, xs: number[], ys: number[], zs: number[][]) {
  const { ctx, chartArea, scales } = chart;
  const nx = xs.length;
  const ny = ys.length;
  const off = document.createElement('canvas');
  off.width = nx;
  off.height = ny;
  const octx = off.getContext('2d')!;
  const img = octx.createImageData(nx, ny);
  for (let j = 0; j < ny; j++) {
    for (let i = 0; i < nx; i++) {
      const [r, g, b] = ramp(zs[j][i]);
      const k = (j * nx + i) * 4;
      img.data[k] = r;
      img.data[k + 1] = g;
      img.data[k + 2] = b;
      img.data[k + 3] = 255;
    }
  }
  octx.putImageData(img, 0, 0);
  const dx = xs[1] - xs[0];
  const dy = ys[0] - ys[1];
  const left = scales.x.getPixelForValue(xs[0] - dx / 2);
  const right = scales.x.getPixelForValue(xs[nx - 1] + dx / 2);
  const top = scales.y.getPixelForValue(ys[0] + dy / 2);
  const bottom = scales.y.getPixelForValue(ys[ny - 1] - dy / 2);
  ctx.save();
  ctx.beginPath();
  ctx.rect(chartArea.left, chartArea.top, chartArea.right - chartArea.left, chartArea.bottom - chartArea.top);
  ctx.clip();
  ctx.imageSmoothingEnabled = true;
  ctx.imageSmoothingQuality = 'high';
  ctx.drawImage(off, left, top, right - left, bottom - top);
  ctx.restore();
}

function makeDecor(cfg: Decor) {
  return {
    id: 'rdecor',
    beforeDatasetsDraw(chart: any) {
      if (cfg.heat) {
        drawGrid(chart, bgX, bgY, bgZ);
        drawGrid(chart, heatX, heatY, heatZ);
      }
    },
    afterDatasetsDraw(chart: any) {
      const { ctx, chartArea: a, scales } = chart;
      ctx.save();
      ctx.beginPath();
      ctx.rect(a.left, a.top, a.right - a.left, a.bottom - a.top);
      ctx.clip();
      for (const l of cfg.vlines || []) {
        const px = scales.x.getPixelForValue(l.v);
        ctx.beginPath();
        ctx.strokeStyle = l.color;
        ctx.lineWidth = l.width;
        ctx.setLineDash(l.dash);
        ctx.moveTo(px, a.top);
        ctx.lineTo(px, a.bottom);
        ctx.stroke();
      }
      for (const l of cfg.hlines || []) {
        const py = scales.y.getPixelForValue(l.v);
        ctx.beginPath();
        ctx.strokeStyle = l.color;
        ctx.lineWidth = l.width;
        ctx.setLineDash(l.dash);
        ctx.moveTo(a.left, py);
        ctx.lineTo(a.right, py);
        ctx.stroke();
      }
      ctx.restore();
    },
    afterDraw(chart: any) {
      const { ctx, chartArea: a, scales } = chart;
      ctx.save();
      ctx.setLineDash([]);
      ctx.strokeStyle = '#222';
      ctx.lineWidth = 1;
      ctx.strokeRect(a.left + 0.5, a.top + 0.5, a.right - a.left - 1, a.bottom - a.top - 1);
      ctx.fillStyle = '#000';
      ctx.font = `bold 21.5px ${FONT}`;
      ctx.textAlign = 'center';
      ctx.textBaseline = 'middle';
      ctx.fillText(cfg.title, (a.left + a.right) / 2, 24);
      ctx.font = `10px ${FONT}`;
      for (const v of cfg.yTicks) {
        const py = scales.y.getPixelForValue(v);
        ctx.save();
        ctx.translate(a.left - 18, py);
        ctx.rotate(-Math.PI / 2);
        ctx.fillText(cfg.yFmt(v), 0, 0);
        ctx.restore();
      }
      if (cfg.legend) {
        const x0 = a.right - 217;
        const rows = [a.top + 17, a.top + 33, a.top + 48];
        ctx.font = `12px ${FONT}`;
        ctx.textAlign = 'left';
        ctx.lineWidth = 1;
        ctx.setLineDash([1.5, 2.5]);
        ctx.strokeStyle = '#1f3f1f';
        ctx.beginPath();
        ctx.moveTo(x0, rows[0]);
        ctx.lineTo(x0 + 26, rows[0]);
        ctx.stroke();
        ctx.strokeStyle = '#e65a5a';
        ctx.beginPath();
        ctx.moveTo(x0, rows[1]);
        ctx.lineTo(x0 + 26, rows[1]);
        ctx.stroke();
        ctx.setLineDash([]);
        ctx.fillStyle = '#0000ff';
        ctx.beginPath();
        ctx.arc(x0 + 14, rows[2], 3, 0, Math.PI * 2);
        ctx.fill();
        ctx.fillStyle = '#000';
        legendLabels.forEach((t, i) => ctx.fillText(t, x0 + 37, rows[i]));
      }
      ctx.restore();
    },
  };
}

type AxOpts = {
  xMin: number; xMax: number; yMin: number; yMax: number;
  xTicks: number[]; yTicks: number[]; xTitle: string; yTitle: string;
};

function axes(o: AxOpts) {
  const grid = { drawOnChartArea: false, drawTicks: true, tickLength: 6, color: '#000', tickColor: '#000', tickWidth: 1 };
  return {
    x: {
      type: 'linear',
      min: o.xMin,
      max: o.xMax,
      afterBuildTicks: (a: any) => { a.ticks = o.xTicks.map((v) => ({ value: v })); },
      afterFit: (s: any) => { s.height = 61; },
      grid,
      border: { display: false },
      ticks: { font: { size: 10, family: FONT }, color: '#000', padding: 8, maxRotation: 0, autoSkip: false, callback: (v: any) => String(v) },
      title: { display: true, text: o.xTitle, font: { size: 16, family: FONT }, color: '#000', padding: { top: 0, bottom: 10 } },
    },
    y: {
      type: 'linear',
      min: o.yMin,
      max: o.yMax,
      afterBuildTicks: (a: any) => { a.ticks = o.yTicks.map((v) => ({ value: v })); },
      afterFit: (s: any) => { s.width = 60; },
      grid,
      border: { display: false },
      ticks: { display: false },
      title: { display: true, text: o.yTitle, font: { size: 16, family: FONT }, color: '#000', padding: { top: 9, bottom: 0 } },
    },
  };
}

function baseOptions(o: AxOpts) {
  return {
    animation: false,
    responsive: false,
    events: [],
    layout: { padding: { left: 0, right: 48, top: 47, bottom: 0 } },
    plugins: {
      legend: { display: false },
      tooltip: { enabled: false },
      title: { display: false },
    },
    scales: axes(o),
  };
}

const fmtInt = (v: number) => String(v);

function scatterConfig(): any {
  const pts = topHits.flatMap(([s, xs]) => xs.map((x) => ({ x, y: s })));
  return {
    type: 'scatter',
    data: { datasets: [{ data: pts, pointRadius: 1.15, pointBackgroundColor: '#000', pointBorderWidth: 0, pointHoverRadius: 0 }] },
    options: baseOptions({
      xMin: -530, xMax: 534, yMin: 68.9, yMax: 101.2, xTicks: distTicks, yTicks: scoreTicks,
      xTitle: 'Distance to peak summit', yTitle: 'Motif score',
    }),
    plugins: [makeDecor({
      title: 'Top hit for each peak',
      yTicks: scoreTicks, yFmt: fmtInt,
      vlines: [
        { v: -ENRICHMENT_ZONE, color: '#006400', width: 2.5, dash: [9, 6] },
        { v: ENRICHMENT_ZONE, color: '#006400', width: 2.5, dash: [9, 6] },
      ],
      hlines: [{ v: SCORE_THRESHOLD, color: '#d93030', width: 2, dash: [10, 6] }],
    })],
  };
}

function heatConfig(): any {
  return {
    type: 'scatter',
    data: { datasets: [{ data: [], pointRadius: 0 }] },
    options: baseOptions({
      xMin: -493, xMax: 494, yMin: 70, yMax: 100, xTicks: distTicks, yTicks: scoreTicks,
      xTitle: 'Distance to peak summit', yTitle: 'Motif score',
    }),
    plugins: [makeDecor({
      title: 'Density heat map for the top hits',
      yTicks: scoreTicks, yFmt: fmtInt, heat: true,
      vlines: [
        { v: -ENRICHMENT_ZONE, color: '#157a15', width: 1.3, dash: [6, 3] },
        { v: ENRICHMENT_ZONE, color: '#157a15', width: 1.3, dash: [6, 3] },
      ],
      hlines: [{ v: SCORE_THRESHOLD, color: '#d93535', width: 1.5, dash: [6, 4] }],
    })],
  };
}

function densityConfig(xs: number[], ys: number[], o: AxOpts, decor: Decor): any {
  const pts = xs.map((x, i) => ({ x, y: ys[i] }));
  return {
    type: 'line',
    data: {
      datasets: [
        {
          data: pts, borderColor: '#000', borderWidth: 1, backgroundColor: '#f5deb3', fill: 'origin',
          pointRadius: 0, cubicInterpolationMode: 'monotone',
        },
        {
          data: [{ x: xs[0], y: 0 }, { x: xs[xs.length - 1], y: 0 }], borderColor: '#000', borderWidth: 1,
          pointRadius: 0, fill: false,
        },
      ],
    },
    options: baseOptions(o),
    plugins: [makeDecor(decor)],
  };
}

function motifConfig(): any {
  return densityConfig(scoreX, scoreDensity, {
    xMin: 66.09, xMax: 103.9, yMin: -0.0023, yMax: 0.0623, xTicks: scoreTicks, yTicks: scoreDensTicks,
    xTitle: 'Motif score', yTitle: 'Density',
  }, {
    title: 'Motif score threshold: 82.400',
    yTicks: scoreDensTicks, yFmt: (v) => v.toFixed(2),
    vlines: [{ v: SCORE_THRESHOLD, color: '#c8323a', width: 1.3, dash: [7, 4] }],
  });
}

function enrichConfig(): any {
  return densityConfig(distX, distDensity, {
    xMin: -554, xMax: 556, yMin: -0.000443, yMax: 0.01196, xTicks: distTicks, yTicks: distDensTicks,
    xTitle: 'Distance to peak summit', yTitle: 'Density',
  }, {
    title: 'Enrichment zone: 105.00',
    yTicks: distDensTicks, yFmt: (v) => v.toFixed(3), legend: true,
    vlines: [
      { v: -ENRICHMENT_ZONE, color: '#157a15', width: 1.3, dash: [6, 3] },
      { v: ENRICHMENT_ZONE, color: '#157a15', width: 1.3, dash: [6, 3] },
    ],
  });
}

function Panel({ make, left, top }: { make: () => any; left: number; top: number }) {
  const ref = useRef<HTMLCanvasElement>(null);
  useEffect(() => {
    const chart = new Chart(ref.current!, make());
    return () => chart.destroy();
  }, [make]);
  return (
    <div style={{ position: 'absolute', left, top, width: 640, height: 640 }}>
      <canvas ref={ref} width={640} height={640} style={{ width: 640, height: 640, display: 'block' }} />
    </div>
  );
}

export default function App() {
  return (
    <div style={{ position: 'absolute', left: 0, top: 0, width: 1280, height: 1280, background: '#fff' }}>
      <Panel make={scatterConfig} left={0} top={0} />
      <Panel make={heatConfig} left={640} top={0} />
      <Panel make={motifConfig} left={0} top={640} />
      <Panel make={enrichConfig} left={640} top={640} />
    </div>
  );
}
